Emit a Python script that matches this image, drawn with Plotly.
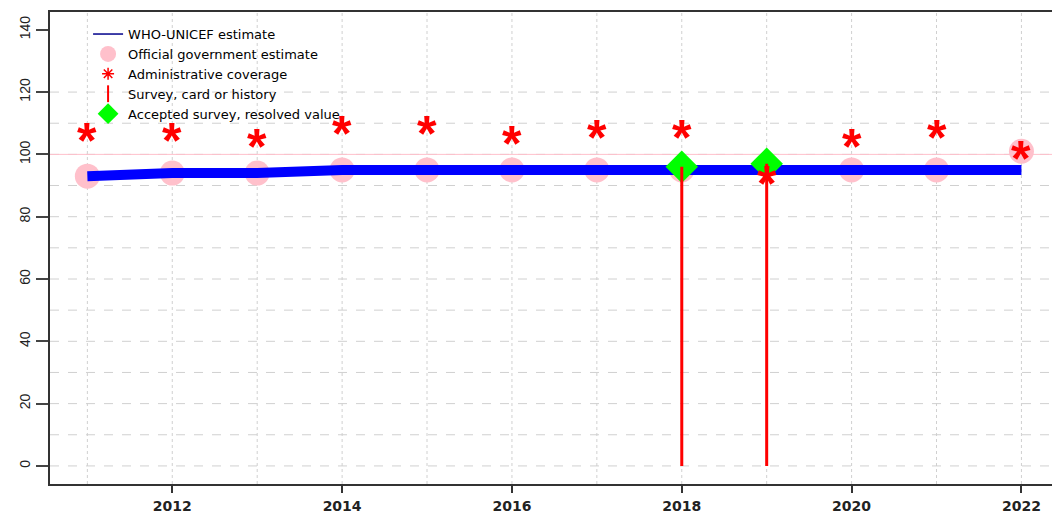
import plotly.graph_objects as go

# ---------------- data ----------------
YEARS = list(range(2011, 2023))
WUENIC = [93, 94, 94, 95, 95, 95, 95, 95, 95, 95, 95, 95]
OFFICIAL = [93, 94, 94, 95, 95, 95, 95, 95, None, 95, 95, 101]
ADMIN = [106, 106, 104, 108, 108, 105, 107, 107, 92, 104, 107, 100]
SURVEY_YEARS = [2018, 2019]
SURVEY = [96, 97]
ACCEPTED_YEARS = [2018, 2019]
ACCEPTED = [96, 97]
TARGET = 100
X_TICKS = [2012, 2014, 2016, 2018, 2020, 2022]
Y_TICKS = [0, 20, 40, 60, 80, 100, 120, 140]
GRID_X = YEARS
GRID_Y = list(range(0, 121, 10))

LEGEND_NAMES = [
    "WHO-UNICEF estimate",
    "Official government estimate",
    "Administrative coverage",
    "Survey, card or history",
    "Accepted survey, resolved value",
]

fig = go.Figure()

# grid lines
for gx in GRID_X:
    fig.add_shape(type="line", xref="x", yref="paper", x0=gx, x1=gx, y0=0, y1=1,
                  line=dict(color="#d0d0d0", width=1, dash="dot"), layer="below")
for gy in GRID_Y:
    fig.add_shape(type="line", xref="paper", yref="y", x0=0, x1=1, y0=gy, y1=gy,
                  line=dict(color="#d0d0d0", width=1, dash="dash"), layer="below")
fig.add_shape(type="line", xref="paper", yref="y", x0=0, x1=1, y0=TARGET, y1=TARGET,
              line=dict(color="#FFC0CB", width=1), layer="below")

# official
fig.add_trace(go.Scatter(x=YEARS, y=OFFICIAL, mode="markers", name=LEGEND_NAMES[1],
                         marker=dict(symbol="circle", size=25, color="#FFC0CB"),
                         legendrank=2))
# WUENIC
fig.add_trace(go.Scatter(x=YEARS, y=WUENIC, mode="lines", name=LEGEND_NAMES[0],
                         line=dict(color="#0000FF", width=10),
                         showlegend=False))
# accepted survey
fig.add_trace(go.Scatter(x=ACCEPTED_YEARS, y=ACCEPTED, mode="markers", name=LEGEND_NAMES[4],
                         marker=dict(symbol="diamond", size=25, color="#00FF00"),
                         legendrank=5))
# survey lines
sx, sy = [], []
for yr, v in zip(SURVEY_YEARS, SURVEY):
    sx += [yr, yr, None]
    sy += [0, v, None]
fig.add_trace(go.Scatter(x=sx, y=sy, mode="lines", line=dict(color="#FF0000", width=3),
                         showlegend=False))

# admin asterisks (glyph centred on the value)
for yr, v in zip(YEARS, ADMIN):
    fig.add_annotation(x=yr, y=v, xref="x", yref="y", text="*", showarrow=False,
                       yshift=-5,
                       font=dict(family="Liberation Sans", size=50, color="#FF0000",
                                 weight="bold"))

# legend-only entries
fig.add_trace(go.Scatter(x=[None], y=[None], mode="lines", name=LEGEND_NAMES[0],
                         line=dict(color="#00008B", width=1.5), legendrank=1))
fig.add_trace(go.Scatter(x=[None], y=[None], mode="markers", name=LEGEND_NAMES[2],
                         marker=dict(symbol="asterisk-open", size=10, color="#FF0000",
                                     line=dict(color="#FF0000", width=1.5)),
                         legendrank=3))
fig.add_trace(go.Scatter(x=[None], y=[None], mode="markers", name=LEGEND_NAMES[3],
                         marker=dict(symbol="line-ns-open", size=12, color="#FF0000",
                                     line=dict(color="#FF0000", width=2)),
                         legendrank=4))

fig.update_layout(
    width=1052, height=514,
    margin=dict(l=50, r=0, t=12, b=30),
    paper_bgcolor="white", plot_bgcolor="white",
    showlegend=True,
    legend=dict(x=0.038, y=0.985, xanchor="left", yanchor="top",
                bgcolor="rgba(0,0,0,0)", tracegroupgap=0,
                font=dict(family="DejaVu Sans", size=13, color="black")),
    xaxis=dict(range=[2010.56, 2022.36], tickvals=X_TICKS, showgrid=False,
               zeroline=False, showline=True, linecolor="#333", linewidth=2,
               mirror=True, ticks="outside", ticklen=7, tickwidth=2, tickcolor="#333",
               automargin=False, ticklabelstandoff=1,
               tickfont=dict(family="DejaVu Sans", size=14, color="#222", weight="bold")),
    yaxis=dict(range=[-5.8, 145.7], tickvals=Y_TICKS, showgrid=False,
               zeroline=False, showline=True, linecolor="#333", linewidth=2,
               ticks="outside", ticklen=12, tickwidth=2, tickcolor="#444",
               tickangle=-90, automargin=False,
               tickfont=dict(family="Liberation Sans", size=14, color="#222")),
)

fig.write_html(
    "out.html",
    config={"displayModeBar": False},
    post_script="document.body.style.margin='0';document.body.style.overflow='hidden';",
)
